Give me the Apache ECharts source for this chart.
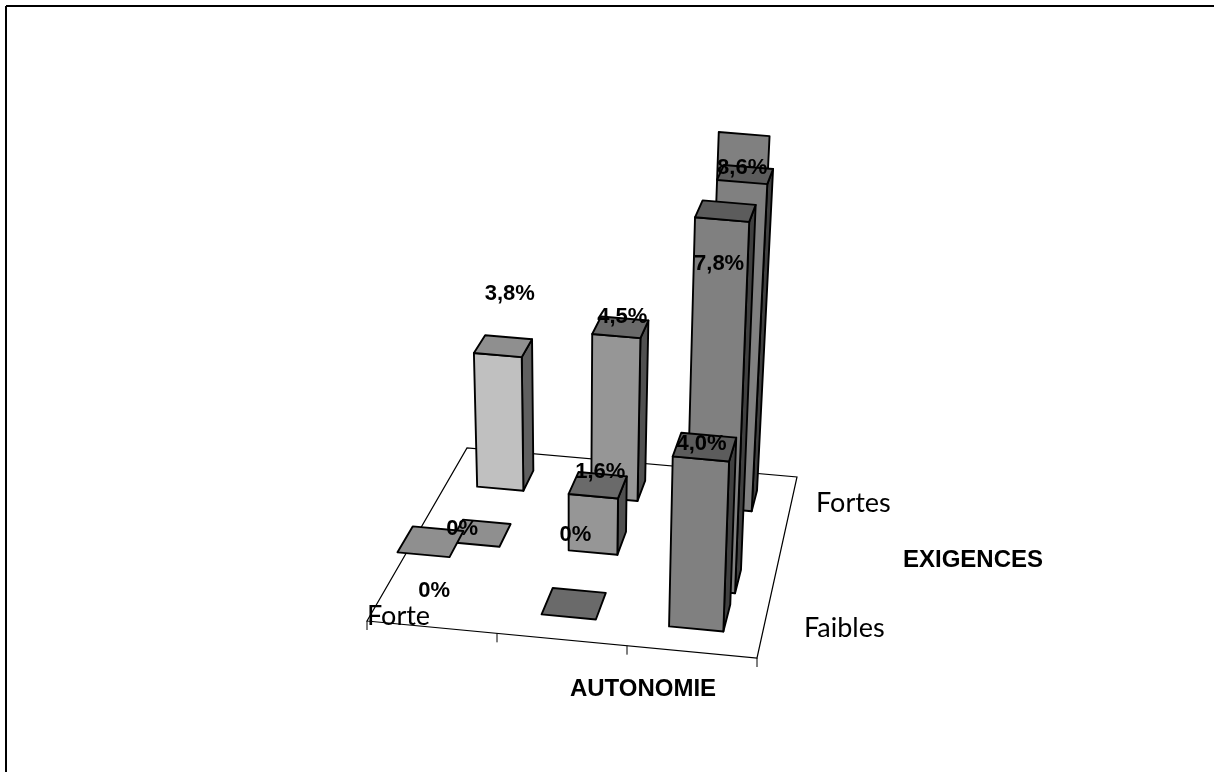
<!DOCTYPE html>
<html>
<head>
<meta charset="utf-8">
<style>html,body{margin:0;padding:0;background:#fff}#chart{width:1214px;height:772px}</style>
<script src="https://cdn.jsdelivr.net/npm/echarts@6/dist/echarts.min.js"></script>
</head>
<body>
<div id="chart"></div>
<script>
// Share of employees (%) by autonomy level (columns) and demand level (rows).
const autonomieLevels = ['Forte', 'Moyenne', 'Faible'];
const exigenceLevels = ['Faibles', 'Moyennes', 'Fortes'];
const exigencesFaibles = [0, 0, 4.0];
const exigencesMoyennes = [0, 1.6, 7.8];
const exigencesFortes = [3.8, 4.5, 8.6];
const autonomieTitle = 'AUTONOMIE';
const exigenceTitle = 'EXIGENCES';

// Floor of the 3D box on the page, and the look of the columns.
const FLOOR = { fl: [367, 621], fr: [757, 658], br: [797, 477], bl: [467, 448] };
const FOOT_WIDTH = [0.142, 0.135, 0.135];
const FOOT_DEPTH = [0.15, 0.13, 0.115];
const FOOT_ANCHOR = 0.0625;
const PERSPECTIVE = 0.035;
const VALUE_MAX = 7.8;
const SHADES = [
  { face: '#c0c0c0', lid: '#8f8f8f', side: '#606060' },
  { face: '#969696', lid: '#6a6a6a', side: '#505050' },
  { face: '#808080', lid: '#5c5c5c', side: '#404040' }
];
// Small per-cell displacements on the floor: [row][col] -> [ds, dt].
const FOOT_SHIFT = [
  [[-0.114, 0.266], [0, 0], [0, 0]],
  [[0.01, 0.015], [0, 0.03], [0.012, -0.12]],
  [[0, 0], [0, 0], [0, 0]]
];
// Where each value label sits relative to the top of its column: [row][col] -> [dx, dy].
const LABEL_SHIFT = [
  [[12, 36], [8, -82], [2, -15]],
  [[-13, -16], [7, -24], [-3, 44]],
  [[12, -61], [6, -19], [-2, 34]]
];

function floorPoint(s, t) {
  const f = FLOOR;
  const fx = f.fl[0] + s * (f.fr[0] - f.fl[0]), fy = f.fl[1] + s * (f.fr[1] - f.fl[1]);
  const bx = f.bl[0] + s * (f.br[0] - f.bl[0]), by = f.bl[1] + s * (f.br[1] - f.bl[1]);
  return [fx + t * (bx - fx), fy + t * (by - fy)];
}
// Floor position plus height: columns rise faster near the viewer and lean outwards when tall.
function project(s, t, z, tFront) {
  const b = floorPoint(s, t);
  const zp = z / (1 - PERSPECTIVE * z);
  const tRise = (t + tFront) / 2;
  return [b[0] + 0.008 * (b[0] - 570) * zp, b[1] - (37.7 - 9.1 * tRise) * zp];
}
function fmt(v) {
  return (v === 0 ? '0' : v.toFixed(1).replace('.', ',')) + '%';
}

const cells = [];
[exigencesFaibles, exigencesMoyennes, exigencesFortes].forEach(function (vals, r) {
  vals.forEach(function (v, c) { cells.push([c, r, v]); });
});
// Painter's order: far row first.
const drawOrder = cells.slice().sort(function (a, b) { return b[1] - a[1] || a[0] - b[0]; });

function unit(params, api) {
  const p = api.coord([api.value(0), api.value(1)]);
  const g = params.coordSys;
  return [(p[0] - g.x) / g.width, (g.y + g.height - p[1]) / g.height];
}
const line = { stroke: '#000', lineWidth: 1.9, lineJoin: 'round' };
function poly(points, fill) {
  return { type: 'polygon', shape: { points: points }, style: Object.assign({ fill: fill }, line) };
}

function renderColumn(params, api) {
  const c = api.value(0), r = api.value(1), v = api.value(2);
  const u = unit(params, api);
  const sh = FOOT_SHIFT[r][c];
  const s0 = u[0] - 0.009 + sh[0] - 0.0675, t0 = u[1] + 0.022 + sh[1] - FOOT_ANCHOR;
  const s1 = s0 + FOOT_WIDTH[r], t1 = t0 + FOOT_DEPTH[r];
  const lidZ = Math.min(v, VALUE_MAX);
  const shade = SHADES[c];
  const P = function (s, t, z) { return project(s, t, z, t0); };
  const kids = [];
  if (v > 0) {
    kids.push(poly([P(s1, t0, 0), P(s1, t1, 0), P(s1, t1, lidZ), P(s1, t0, lidZ)], shade.side));
    kids.push(poly([P(s0, t0, 0), P(s1, t0, 0), P(s1, t0, v), P(s0, t0, v)], shade.face));
  }
  kids.push(poly([P(s0, t0, lidZ), P(s1, t0, lidZ), P(s1, t1, lidZ), P(s0, t1, lidZ)], shade.lid));
  return { type: 'group', children: kids };
}

function renderLabel(params, api) {
  const c = api.value(0), r = api.value(1), v = api.value(2);
  const u = unit(params, api);
  const sh = FOOT_SHIFT[r][c];
  const t0 = u[1] + 0.022 + sh[1] - FOOT_ANCHOR;
  const p = project(u[0] - 0.009 + sh[0], t0, v, t0);
  const d = LABEL_SHIFT[r][c];
  return {
    type: 'text',
    style: {
      x: p[0] + d[0], y: p[1] + d[1], text: fmt(v), fill: '#000',
      font: 'bold 22px "Liberation Sans", Arial, sans-serif', align: 'center', verticalAlign: 'middle'
    }
  };
}

function renderFloor() {
  const f = FLOOR;
  const base = { stroke: '#000', lineWidth: 1, fill: null };
  const kids = [{ type: 'polygon', shape: { points: [f.fl, f.fr, f.br, f.bl] }, style: { fill: '#fff', stroke: '#000', lineWidth: 1.2 } }];
  [0, 1 / 3, 2 / 3, 1].forEach(function (s) {
    const p = floorPoint(s, 0);
    kids.push({ type: 'line', shape: { x1: p[0], y1: p[1], x2: p[0], y2: p[1] + 9 }, style: base });
  });
  return { type: 'group', children: kids };
}

function axisText(text, x, y, font, align) {
  return { type: 'text', x: x, y: y, z: 20, style: { text: text, font: font, fill: '#000', textAlign: align || 'left', textVerticalAlign: 'middle' } };
}
const tickFont = '27px Lato, "Noto Sans", sans-serif';
const titleFont = 'bold 24px "Liberation Sans", Arial, sans-serif';

const chart = echarts.init(document.getElementById('chart'), null, { renderer: 'canvas' });
chart.setOption({
  animation: false,
  backgroundColor: '#fff',
  grid: { left: 200, top: 200, width: 300, height: 300, show: false },
  xAxis: { type: 'category', data: autonomieLevels, show: false },
  yAxis: { type: 'category', data: exigenceLevels, show: false },
  graphic: [
    { type: 'line', shape: { x1: 6, y1: 6, x2: 1214, y2: 6 }, style: { stroke: '#000', lineWidth: 2 } },
    { type: 'line', shape: { x1: 6, y1: 6, x2: 6, y2: 772 }, style: { stroke: '#000', lineWidth: 2 } },
    axisText(autonomieLevels[0], 367, 616, tickFont),
    axisText(exigenceLevels[2], 816, 503, tickFont),
    axisText(exigenceLevels[0], 804, 628, tickFont),
    axisText(autonomieTitle, 643, 689, titleFont, 'center'),
    axisText(exigenceTitle, 973, 560, titleFont, 'center')
  ],
  series: [
    { type: 'custom', coordinateSystem: 'cartesian2d', data: [[0, 0, 0]], renderItem: renderFloor, z: 1, silent: true },
    { type: 'custom', coordinateSystem: 'cartesian2d', data: drawOrder, renderItem: renderColumn, z: 2, silent: true },
    { type: 'custom', coordinateSystem: 'cartesian2d', data: cells, renderItem: renderLabel, z: 3, silent: true }
  ]
});
</script>
</body>
</html>
